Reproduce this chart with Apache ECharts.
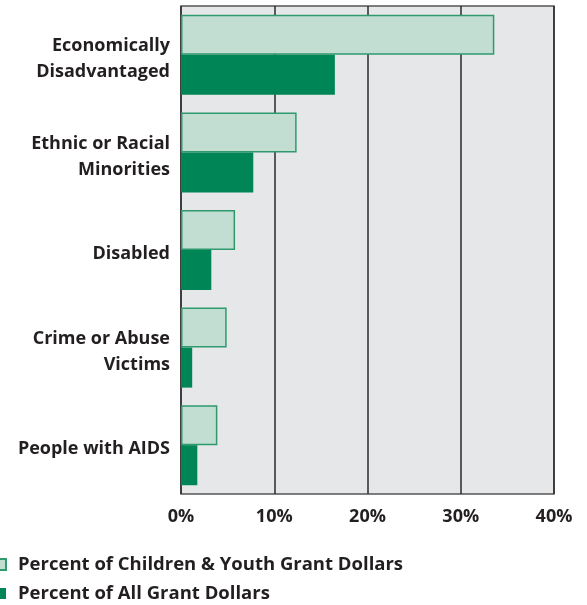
<!DOCTYPE html>
<html>
<head>
<meta charset="utf-8">
<script src="https://cdn.jsdelivr.net/npm/echarts@6/dist/echarts.min.js"></script>
<style>
  html, body { margin: 0; padding: 0; background: #fff; }
  #chart { width: 587px; height: 605px; }
</style>
</head>
<body>
<div id="chart"></div>
<script>
const categories = ['Economically\nDisadvantaged', 'Ethnic or Racial\nMinorities', 'Disabled', 'Crime or Abuse\nVictims', 'People with AIDS'];
const youthPct = [33.6, 12.4, 5.8, 4.9, 3.9];
const allPct = [16.5, 7.75, 3.25, 1.2, 1.75];
const seriesNames = ['Percent of Children & Youth Grant Dollars', 'Percent of All Grant Dollars'];

const font = '"Open Sans", Lato, sans-serif';
const ink = '#231f20';

const chart = echarts.init(document.getElementById('chart'));
chart.setOption({
  animation: false,
  legend: {
    orient: 'vertical',
    left: -5,
    top: 555,
    padding: 0,
    icon: 'rect',
    itemWidth: 10,
    itemHeight: 11,
    itemGap: 10,
    selectedMode: false,
    textStyle: { fontFamily: font, fontWeight: 'bold', fontSize: 18.5, color: ink, padding: [0, 0, 0, 7] },
    data: seriesNames
  },
  grid: { left: 181, top: 6, right: 33, bottom: 111, containLabel: false,
    show: true, backgroundColor: '#e6e7e8', borderColor: '#555', borderWidth: 1.5 },
  xAxis: {
    type: 'value', min: 0, max: 40, interval: 10,
    axisLine: { show: false },
    axisTick: { show: false },
    splitLine: { show: true, lineStyle: { color: '#2a2a2a', width: 1.5 } },
    axisLabel: { formatter: '{value}%', margin: 14, fontFamily: font, fontWeight: 'bold', fontSize: 18, color: ink }
  },
  yAxis: {
    type: 'category', data: categories, inverse: true,
    axisLine: { show: false }, axisTick: { show: false },
    axisLabel: {
      margin: 11, align: 'right',
      // a thin empty first line nudges the label block a few px down
      formatter: v => '{s| }\n' + v.split('\n').map(t => '{a|' + t + '}').join('\n'),
      rich: {
        s: { fontSize: 2, lineHeight: 8 },
        a: { fontFamily: font, fontWeight: 'bold', fontSize: 18, lineHeight: 26, color: ink, align: 'right' }
      }
    }
  },
  series: [
    { name: seriesNames[0], type: 'bar', data: youthPct, barGap: '0%', barCategoryGap: '18%',
      itemStyle: { color: '#c2ddd2', borderColor: '#2e9a6e', borderWidth: 1.5 } },
    { name: seriesNames[1], type: 'bar', data: allPct,
      itemStyle: { color: '#008556' } }
  ]
});
</script>
</body>
</html>
